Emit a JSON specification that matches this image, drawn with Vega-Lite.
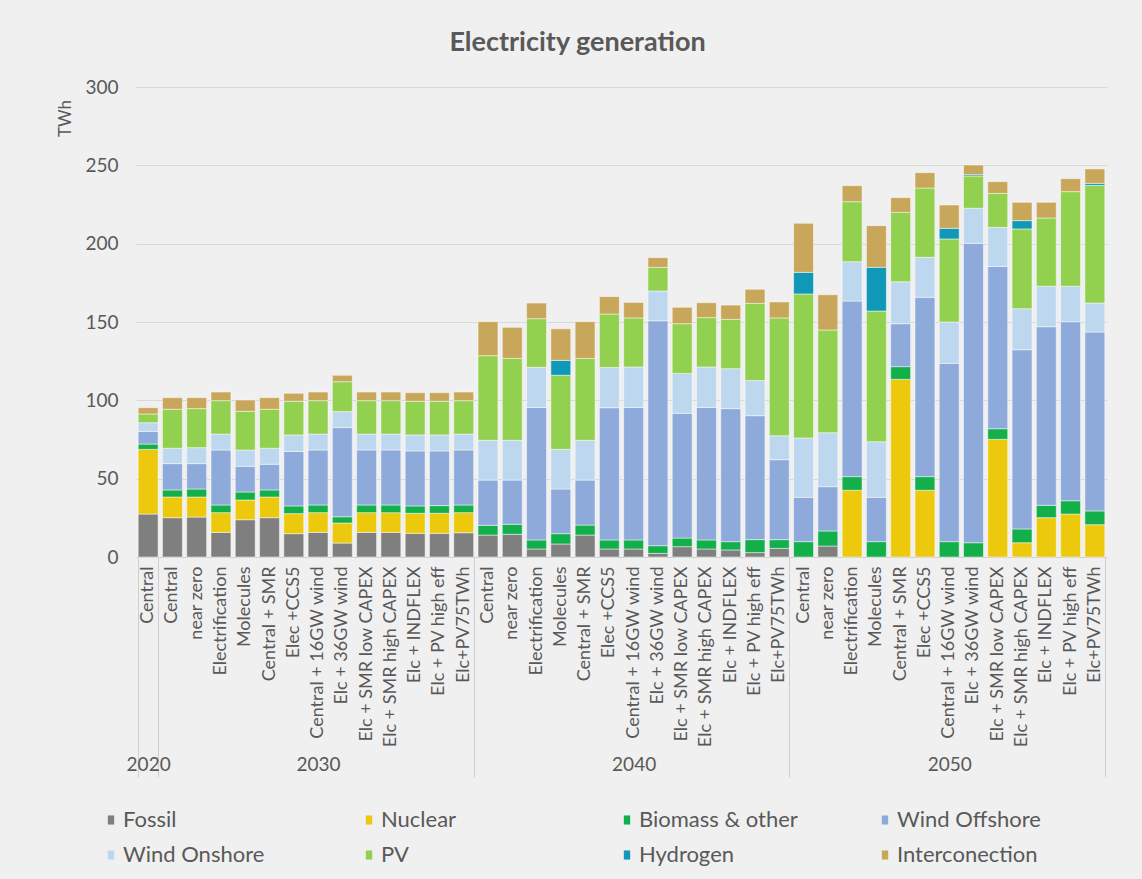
{
  "$schema": "https://vega.github.io/schema/vega-lite/v6.json",
  "width": 971,
  "height": 470,
  "autosize": {"type": "none"},
  "padding": {"left": 136, "top": 87, "right": 35, "bottom": 322},
  "background": "#f0f0f0",
  "config": {"view": {"stroke": null}, "font": "Lato"},
  "title": {"text": "Electricity generation", "anchor": "middle", "frame": "group", "dx": -44, "offset": 21, "font": "Lato", "fontSize": 27, "fontWeight": "bold", "color": "#595959"},
  "data": {"values": [
    {"id": "2020|Central", "Fossil": 27.4, "Nuclear": 41.3, "Biomass & other": 3.4, "Wind Offshore": 8.1, "Wind Onshore": 5.5, "PV": 5.6, "Hydrogen": 0, "Interconection": 4.0},
    {"id": "2030|Central", "Fossil": 25.1, "Nuclear": 13.2, "Biomass & other": 4.5, "Wind Offshore": 16.8, "Wind Onshore": 9.8, "PV": 24.9, "Hydrogen": 0, "Interconection": 7.4},
    {"id": "2030|near zero", "Fossil": 25.5, "Nuclear": 12.8, "Biomass & other": 5.1, "Wind Offshore": 16.2, "Wind Onshore": 10.2, "PV": 24.9, "Hydrogen": 0, "Interconection": 7.0},
    {"id": "2030|Electrification", "Fossil": 15.7, "Nuclear": 12.6, "Biomass & other": 4.9, "Wind Offshore": 35.1, "Wind Onshore": 10.2, "PV": 21.3, "Hydrogen": 0, "Interconection": 5.5},
    {"id": "2030|Molecules", "Fossil": 23.8, "Nuclear": 12.6, "Biomass & other": 5.1, "Wind Offshore": 16.4, "Wind Onshore": 10.4, "PV": 24.7, "Hydrogen": 0, "Interconection": 7.2},
    {"id": "2030|Central + SMR", "Fossil": 25.1, "Nuclear": 13.2, "Biomass & other": 4.5, "Wind Offshore": 16.4, "Wind Onshore": 10.2, "PV": 24.9, "Hydrogen": 0, "Interconection": 7.4},
    {"id": "2030|Elec +CCS5", "Fossil": 14.9, "Nuclear": 12.8, "Biomass & other": 4.9, "Wind Offshore": 34.8, "Wind Onshore": 10.5, "PV": 21.5, "Hydrogen": 0, "Interconection": 5.1},
    {"id": "2030|Central + 16GW wind", "Fossil": 15.7, "Nuclear": 12.6, "Biomass & other": 4.9, "Wind Offshore": 35.1, "Wind Onshore": 10.2, "PV": 21.3, "Hydrogen": 0, "Interconection": 5.5},
    {"id": "2030|Elc + 36GW wind", "Fossil": 8.9, "Nuclear": 12.8, "Biomass & other": 4.0, "Wind Offshore": 56.9, "Wind Onshore": 10.2, "PV": 19.1, "Hydrogen": 0, "Interconection": 4.1},
    {"id": "2030|Elc + SMR low CAPEX", "Fossil": 15.7, "Nuclear": 12.6, "Biomass & other": 4.9, "Wind Offshore": 35.1, "Wind Onshore": 10.2, "PV": 21.3, "Hydrogen": 0, "Interconection": 5.5},
    {"id": "2030|Elc + SMR high CAPEX", "Fossil": 15.7, "Nuclear": 12.6, "Biomass & other": 4.9, "Wind Offshore": 35.1, "Wind Onshore": 10.2, "PV": 21.3, "Hydrogen": 0, "Interconection": 5.5},
    {"id": "2030|Elc + INDFLEX", "Fossil": 15.1, "Nuclear": 12.8, "Biomass & other": 4.7, "Wind Offshore": 35.1, "Wind Onshore": 10.2, "PV": 21.5, "Hydrogen": 0, "Interconection": 5.5},
    {"id": "2030|Elc + PV high eff", "Fossil": 15.1, "Nuclear": 12.8, "Biomass & other": 4.9, "Wind Offshore": 34.9, "Wind Onshore": 10.2, "PV": 21.5, "Hydrogen": 0, "Interconection": 5.5},
    {"id": "2030|Elc+PV75TWh", "Fossil": 15.5, "Nuclear": 12.8, "Biomass & other": 4.9, "Wind Offshore": 35.1, "Wind Onshore": 10.2, "PV": 21.3, "Hydrogen": 0, "Interconection": 5.5},
    {"id": "2040|Central", "Fossil": 14.0, "Nuclear": 0, "Biomass & other": 6.2, "Wind Offshore": 28.9, "Wind Onshore": 25.4, "PV": 54.0, "Hydrogen": 0, "Interconection": 21.7},
    {"id": "2040|near zero", "Fossil": 14.5, "Nuclear": 0, "Biomass & other": 6.4, "Wind Offshore": 28.2, "Wind Onshore": 25.4, "PV": 52.3, "Hydrogen": 0, "Interconection": 19.8},
    {"id": "2040|Electrification", "Fossil": 5.1, "Nuclear": 0, "Biomass & other": 5.8, "Wind Offshore": 84.6, "Wind Onshore": 25.6, "PV": 31.0, "Hydrogen": 0, "Interconection": 10.0},
    {"id": "2040|Molecules", "Fossil": 8.3, "Nuclear": 0, "Biomass & other": 6.6, "Wind Offshore": 28.5, "Wind Onshore": 25.3, "PV": 47.3, "Hydrogen": 9.5, "Interconection": 20.2},
    {"id": "2040|Central + SMR", "Fossil": 14.0, "Nuclear": 0, "Biomass & other": 6.4, "Wind Offshore": 28.7, "Wind Onshore": 25.4, "PV": 52.3, "Hydrogen": 0, "Interconection": 23.4},
    {"id": "2040|Elec +CCS5", "Fossil": 5.1, "Nuclear": 0, "Biomass & other": 5.8, "Wind Offshore": 84.4, "Wind Onshore": 25.6, "PV": 34.2, "Hydrogen": 0, "Interconection": 11.1},
    {"id": "2040|Central + 16GW wind", "Fossil": 5.1, "Nuclear": 0, "Biomass & other": 5.8, "Wind Offshore": 84.6, "Wind Onshore": 25.8, "PV": 31.3, "Hydrogen": 0, "Interconection": 9.9},
    {"id": "2040|Elc + 36GW wind", "Fossil": 2.3, "Nuclear": 0, "Biomass & other": 4.9, "Wind Offshore": 143.6, "Wind Onshore": 19.0, "PV": 15.1, "Hydrogen": 0, "Interconection": 6.2},
    {"id": "2040|Elc + SMR low CAPEX", "Fossil": 6.6, "Nuclear": 0, "Biomass & other": 5.5, "Wind Offshore": 79.6, "Wind Onshore": 25.5, "PV": 31.7, "Hydrogen": 0, "Interconection": 10.5},
    {"id": "2040|Elc + SMR high CAPEX", "Fossil": 5.1, "Nuclear": 0, "Biomass & other": 5.8, "Wind Offshore": 84.6, "Wind Onshore": 25.8, "PV": 31.5, "Hydrogen": 0, "Interconection": 9.5},
    {"id": "2040|Elc + INDFLEX", "Fossil": 4.5, "Nuclear": 0, "Biomass & other": 5.3, "Wind Offshore": 84.9, "Wind Onshore": 25.5, "PV": 31.5, "Hydrogen": 0, "Interconection": 9.1},
    {"id": "2040|Elc + PV high eff", "Fossil": 2.8, "Nuclear": 0, "Biomass & other": 8.3, "Wind Offshore": 79.1, "Wind Onshore": 22.4, "PV": 49.3, "Hydrogen": 0, "Interconection": 9.0},
    {"id": "2040|Elc+PV75TWh", "Fossil": 5.5, "Nuclear": 0, "Biomass & other": 5.6, "Wind Offshore": 51.0, "Wind Onshore": 15.3, "PV": 75.2, "Hydrogen": 0, "Interconection": 10.2},
    {"id": "2050|Central", "Fossil": 0, "Nuclear": 0, "Biomass & other": 9.8, "Wind Offshore": 28.3, "Wind Onshore": 37.9, "PV": 91.9, "Hydrogen": 13.8, "Interconection": 31.3},
    {"id": "2050|near zero", "Fossil": 7.0, "Nuclear": 0, "Biomass & other": 9.6, "Wind Offshore": 28.3, "Wind Onshore": 34.4, "PV": 65.6, "Hydrogen": 0, "Interconection": 22.5},
    {"id": "2050|Electrification", "Fossil": 0, "Nuclear": 42.6, "Biomass & other": 8.7, "Wind Offshore": 112.1, "Wind Onshore": 25.1, "PV": 38.3, "Hydrogen": 0, "Interconection": 10.2},
    {"id": "2050|Molecules", "Fossil": 0, "Nuclear": 0, "Biomass & other": 9.8, "Wind Offshore": 28.3, "Wind Onshore": 35.5, "PV": 83.4, "Hydrogen": 27.9, "Interconection": 26.6},
    {"id": "2050|Central + SMR", "Fossil": 0, "Nuclear": 113.4, "Biomass & other": 8.1, "Wind Offshore": 27.4, "Wind Onshore": 26.8, "PV": 44.3, "Hydrogen": 0, "Interconection": 9.4},
    {"id": "2050|Elec +CCS5", "Fossil": 0, "Nuclear": 42.6, "Biomass & other": 8.7, "Wind Offshore": 114.5, "Wind Onshore": 25.5, "PV": 44.2, "Hydrogen": 0, "Interconection": 9.8},
    {"id": "2050|Central + 16GW wind", "Fossil": 0, "Nuclear": 0, "Biomass & other": 9.8, "Wind Offshore": 113.8, "Wind Onshore": 26.4, "PV": 53.0, "Hydrogen": 6.8, "Interconection": 14.9},
    {"id": "2050|Elc + 36GW wind", "Fossil": 0, "Nuclear": 0, "Biomass & other": 9.1, "Wind Offshore": 191.1, "Wind Onshore": 22.4, "PV": 20.6, "Hydrogen": 0.8, "Interconection": 6.2},
    {"id": "2050|Elc + SMR low CAPEX", "Fossil": 0, "Nuclear": 75.1, "Biomass & other": 6.8, "Wind Offshore": 103.6, "Wind Onshore": 24.9, "PV": 21.7, "Hydrogen": 0, "Interconection": 7.5},
    {"id": "2050|Elc + SMR high CAPEX", "Fossil": 0, "Nuclear": 9.1, "Biomass & other": 8.8, "Wind Offshore": 114.4, "Wind Onshore": 26.2, "PV": 50.9, "Hydrogen": 5.3, "Interconection": 11.7},
    {"id": "2050|Elc + INDFLEX", "Fossil": 0, "Nuclear": 25.1, "Biomass & other": 7.9, "Wind Offshore": 114.0, "Wind Onshore": 25.8, "PV": 43.6, "Hydrogen": 0, "Interconection": 10.0},
    {"id": "2050|Elc + PV high eff", "Fossil": 0, "Nuclear": 27.4, "Biomass & other": 8.5, "Wind Offshore": 114.3, "Wind Onshore": 22.6, "PV": 60.4, "Hydrogen": 0, "Interconection": 8.3},
    {"id": "2050|Elc+PV75TWh", "Fossil": 0, "Nuclear": 20.6, "Biomass & other": 8.8, "Wind Offshore": 114.2, "Wind Onshore": 18.5, "PV": 75.1, "Hydrogen": 1.3, "Interconection": 9.2}
  ]},
  "transform": [
    {"fold": ["Fossil", "Nuclear", "Biomass & other", "Wind Offshore", "Wind Onshore", "PV", "Hydrogen", "Interconection"], "as": ["source", "value"]},
    {"filter": "datum.value > 0"},
    {"lookup": "source", "from": {"data": {"values": [
      {"source": "Fossil", "rank": 1},
      {"source": "Nuclear", "rank": 2},
      {"source": "Biomass & other", "rank": 3},
      {"source": "Wind Offshore", "rank": 4},
      {"source": "Wind Onshore", "rank": 5},
      {"source": "PV", "rank": 6},
      {"source": "Hydrogen", "rank": 7},
      {"source": "Interconection", "rank": 8}
    ]}, "key": "source", "fields": ["rank"]}}
  ],
  "layer": [
    {
      "mark": {"type": "bar", "stroke": "#ffffff", "strokeWidth": 0.8, "strokeOpacity": 0.6},
      "encoding": {
        "x": {
          "field": "id", "type": "nominal", "sort": null,
          "scale": {"paddingInner": 0.18, "paddingOuter": 0.09},
          "axis": {
            "title": null, "orient": "bottom",
            "labelExpr": "split(datum.label, '|')[1]",
            "labelAngle": 270, "labelFont": "Lato", "labelFontSize": 18, "labelColor": "#595959",
            "labelPadding": 9, "labelLimit": 300, "labelOverlap": false,
            "ticks": false, "domain": true, "domainColor": "#cfcfcf", "domainWidth": 1, "grid": false
          }
        },
        "y": {
          "field": "value", "type": "quantitative", "stack": "zero",
          "scale": {"domain": [0, 300], "nice": false},
          "axis": {
            "title": "TWh", "values": [0, 50, 100, 150, 200, 250, 300],
            "domain": false, "ticks": false, "grid": true, "gridColor": "#d9d9d9", "gridWidth": 1,
            "labelFont": "Lato", "labelFontSize": 19, "labelColor": "#595959", "labelPadding": 18,
            "titleFont": "Lato", "titleFontSize": 17, "titleFontWeight": "normal", "titleColor": "#595959",
            "titleAngle": 270, "titleX": -71, "titleY": 31, "titleAlign": "center", "titleBaseline": "middle"
          }
        },
        "order": {"field": "rank", "type": "quantitative", "sort": "ascending"},
        "color": {
          "field": "source", "type": "nominal",
          "scale": {
            "domain": ["Fossil", "Nuclear", "Biomass & other", "Wind Offshore", "Wind Onshore", "PV", "Hydrogen", "Interconection"],
            "range": ["#7f7f7f", "#ecc90d", "#13af4b", "#8eaadb", "#bdd7ee", "#92d050", "#0f98b8", "#c9a75a"]
          },
          "legend": {
            "orient": "none", "legendX": -36, "legendY": 722, "direction": "horizontal", "columns": 4,
            "title": null, "labelFont": "Lato", "labelFontSize": 22, "labelColor": "#595959",
            "symbolType": "M-0.35,-0.5H0.35V0.5H-0.35Z", "symbolSize": 330, "symbolStrokeWidth": 0,
            "gridAlign": "all", "columnPadding": 76, "rowPadding": 13, "labelOffset": 1, "labelLimit": 300
          }
        }
      }
    },
    {
      "mark": {"type": "bar", "opacity": 0},
      "encoding": {
        "x": {
          "field": "id", "type": "nominal", "sort": null,
          "axis": {
            "title": null, "orient": "bottom", "domain": false, "grid": false,
            "ticks": true, "tickBand": "extent", "tickSize": 220, "tickColor": "#cfcfcf", "tickWidth": 1,
            "tickOpacity": {"condition": {"test": "datum.value == null || indexof(['2020|Central','2030|Elc+PV75TWh','2040|Elc+PV75TWh','2050|Elc+PV75TWh'], datum.value) >= 0", "value": 1}, "value": 0},
            "labelExpr": "datum.label == '2020|Central' || split(datum.label, '|')[1] == 'Central + 16GW wind' ? split(datum.label, '|')[0] : ''",
            "labelAngle": 0, "labelFont": "Lato", "labelFontSize": 19, "labelColor": "#595959",
            "labelPadding": -22, "labelOverlap": false
          }
        },
        "y": {"field": "value", "type": "quantitative", "aggregate": "sum", "title": "TWh"}
      }
    }
  ],
  "resolve": {"axis": {"x": "independent"}}
}
